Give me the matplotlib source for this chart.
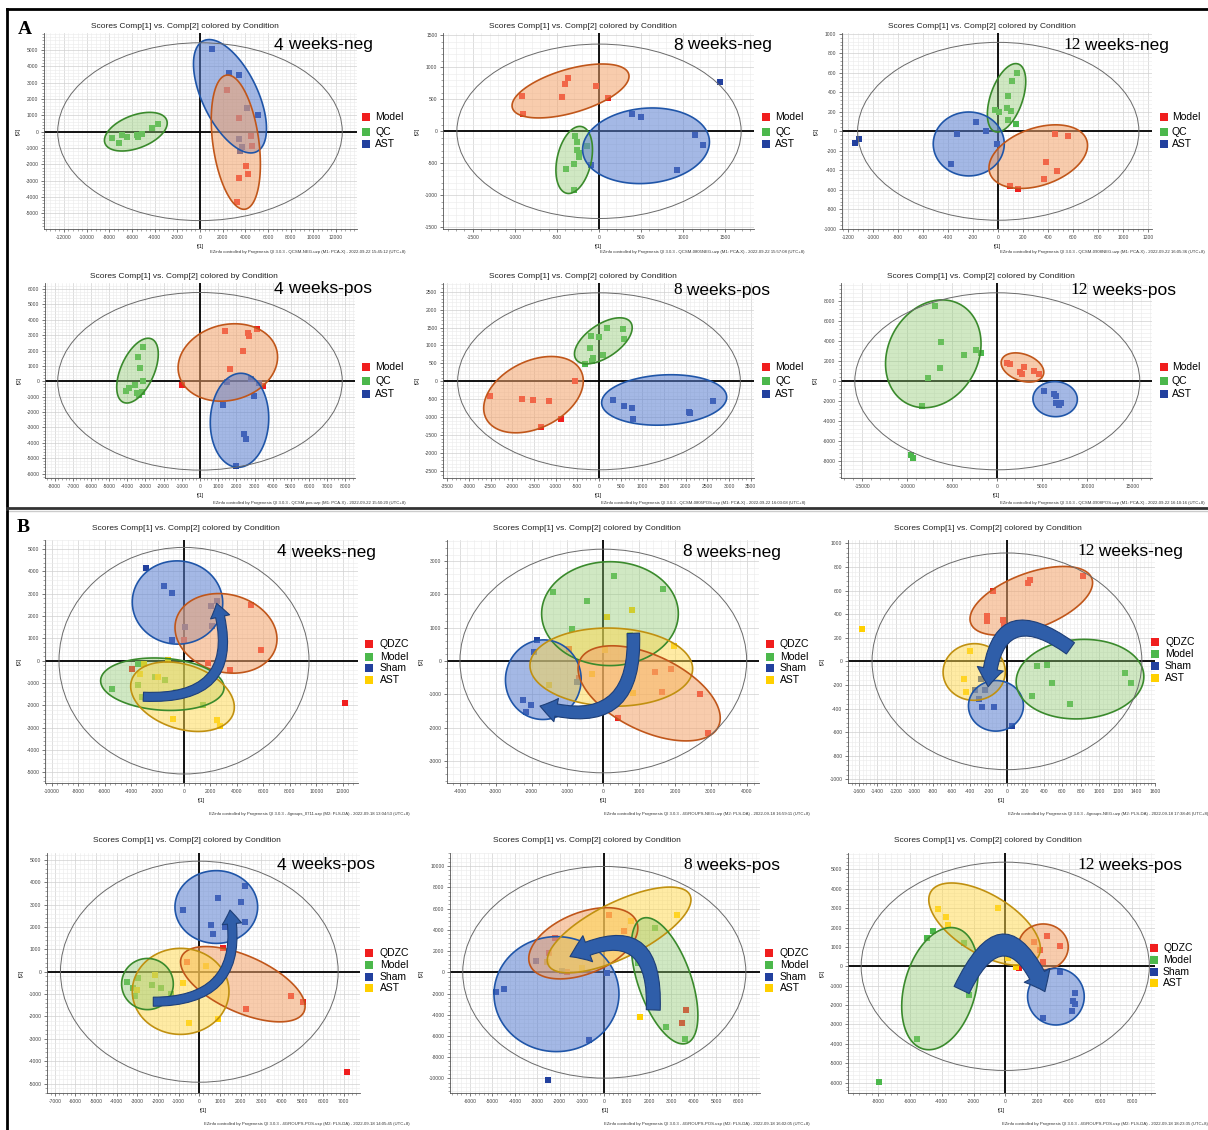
import numpy as np
import matplotlib
matplotlib.use("Agg")
import matplotlib.pyplot as plt
from matplotlib.patches import Ellipse, Polygon, Rectangle, FancyArrowPatch
from matplotlib.ticker import AutoMinorLocator
from matplotlib.lines import Line2D

plt.rcParams['font.family'] = ['Liberation Sans', 'DejaVu Sans']
plt.rcParams['axes.unicode_minus'] = False

W, H = 1208, 1130

# ---------------- data ----------------
# A: PCA score plots (Model / QC / AST)
a1_model = [(2410, 2550), (3470, 816), (4470, -290), (4560, -880), (4030, -2080), (4200, -2590), (3470, -2820), (3230, -4330)]
a1_qc = [(-7730, -410), (-7140, -670), (-6850, -220), (-6470, -310), (-5590, -200), (-5500, -310), (-5150, -160), (-4200, 200), (-3730, 450)]
a1_ast = [(1100, 5050), (2590, 3570), (3440, 3450), (4170, 1470), (5090, 1020), (3470, -470), (3670, -920), (3530, -1180)]

a2_model = [(-911, 546), (-900, 270), (-440, 536), (-404, 738), (-373, 827), (-36, 702), (103, 520)]
a2_qc = [(-281, -73), (-262, -166), (-147, -229), (-266, -296), (-238, -333), (-234, -400), (-301, -515), (-388, -593), (-301, -915)]
a2_ast = [(388, 276), (495, 229), (1145, -57), (1240, -208), (931, -608), (-95, -525), (1439, 764)]

a3_model = [(453, -24), (560, -48), (381, -315), (472, -407), (365, -486), (93, -561), (155, -588)]
a3_qc = [(149, 595), (107, 517), (80, 363), (-27, 219), (5, 195), (69, 236), (99, 212), (77, 113), (144, 72)]
a3_ast = [(-176, 96), (-96, 7), (-333, -27), (-8, -127), (-376, -332), (-1147, -123), (-1112, -82)]

a4_model = [(1395, 3270), (3156, 3400), (2660, 3120), (2697, 2967), (2386, 1971), (1633, 823), (-1009, -217), (3487, -325)]
a4_qc = [(-3120, 2209), (-3395, 1581), (-3285, 866), (-3156, 0), (-3560, -260), (-3909, -455), (-4074, -628), (-3450, -780), (-3211, -671), (-3376, -888)]
a4_ast = [(1468, -65), (2789, 152), (3266, -130), (2954, -953), (1248, -1538), (2440, -3444), (2532, -3747), (1963, -5502)]

a5_model = [(-561, 19), (-2505, -418), (-1767, -483), (-1529, -520), (-1152, -548), (-868, -1059), (-1345, -1273)]
a5_qc = [(192, 1487), (561, 1468), (0, 1245), (-192, 1264), (584, 1180), (-200, 929), (100, 743), (-131, 660), (-169, 576), (-315, 474)]
a5_ast = [(315, -520), (584, -688), (753, -753), (791, -1041), (2067, -846), (2098, -892), (2620, -539)]

a6_model = [(1037, 1833), (1370, 1700), (2926, 1433), (2519, 967), (2704, 700), (4111, 1033), (4667, 733)]
a6_qc = [(-6963, 7500), (-6222, 3900), (-3704, 2633), (-2333, 3133), (-1852, 2800), (-6370, 1300), (-7667, 300), (-8407, -2467), (-9630, -7367), (-9333, -7633)]
a6_ast = [(5148, -933), (6259, -1233), (6481, -1467), (6481, -2133), (6889, -2333), (7074, -2133)]

# B: PLS-DA score plots (QDZC / Model / Sham / AST)
b1_qdzc = [(5040, 2497), (5821, 478), (1840, -120), (3478, -419), (-3956, -374), (0, 927), (12172, -1914)]
b1_model = [(-3452, -150), (-3503, -1076), (-5468, -1271), (-3150, -1645), (-1436, -867), (-2192, -718), (-630, -1390), (1462, -1988)]
b1_sham = [(-2898, 4141), (-1487, 3364), (-932, 3020), (-932, 927), (2041, 2467), (2520, 2676), (101, 1525), (2117, 1570)]
b1_ast = [(-1184, 30), (-2999, -164), (-3326, -598), (-1940, -718), (-857, -2616), (2520, -2661), (2722, -2930)]

b2_qdzc = [(-949, 351), (-679, -501), (1442, -321), (1879, -230), (1628, -922), (2697, -1002), (400, -1703), (2930, -2154)]
b2_model = [(307, 2565), (1674, 2164), (-1395, 2084), (-465, 1804), (-865, 962), (744, 782)]
b2_sham = [(-1841, 631), (-1934, 260), (-744, -641), (-2251, -1172), (-2027, -1323), (-2158, -1533)]
b2_ast = [(809, 1533), (93, 1313), (46, 331), (1981, 451), (-307, -401), (-1516, -721), (837, -972)]

b3_qdzc = [(821, 723), (249, 689), (228, 667), (-149, 599), (-220, 384), (-220, 342), (-43, 350), (-32, 299)]
b3_model = [(324, -40), (430, -34), (484, -181), (270, -291), (686, -364), (1280, -102), (1337, -186)]
b3_sham = [(-281, -153), (-345, -243), (-238, -243), (-299, -322), (-274, -390), (-139, -390), (57, -548)]
b3_ast = [(-1572, 274), (-398, 90), (-462, -153), (-441, -263)]

b4_qdzc = [(1131, 1073), (-598, 432), (808, -313), (4441, -1073), (5006, -1341), (2261, -1684), (7138, -4500)]
b4_model = [(-3488, -462), (-2955, -298), (-3230, -715), (-3101, -1088), (-2309, -611), (-1857, -745), (-1389, -998)]
b4_sham = [(2212, 3829), (904, 3278), (2003, 3129), (-808, 2757), (2229, 2205), (549, 2086), (646, 1684), (1244, 2011)]
b4_ast = [(323, 268), (-2148, -149), (-775, -522), (-3036, -820), (-485, -2310), (921, -2131)]

b5_qdzc = [(224, 5400), (894, 3925), (-2190, 3203), (3636, -3548), (3457, -4741), (-2474, 1790), (-1684, 63)]
b5_model = [(2265, 4145), (1520, 848), (2757, -5181), (3606, -6311)]
b5_sham = [(-3055, 1099), (-1877, 126), (134, -31), (-4857, -1884), (-4470, -1570), (-700, -6374), (-2503, -10142)]
b5_ast = [(1177, 4836), (-2548, 1005), (3233, 5400), (1594, -4239), (-1013, 440)]

b6_qdzc = [(2604, 1564), (3465, 1066), (1827, 1238), (2184, 860), (2394, 241), (861, -69)]
b6_model = [(-4578, 1822), (-4914, 1444), (-2583, 1186), (-2268, -1478), (-5586, -3747), (-7959, -5982)]
b6_sham = [(3465, -275), (4389, -1358), (4242, -1771), (4389, -1942), (4179, -2286), (2352, -2682)]
b6_ast = [(-4263, 2939), (-3738, 2561), (-3633, 2132), (-441, 2991), (-861, 1272), (651, 842), (147, 413), (651, -52)]

# hand-drawn group ellipses: long-axis end points (data units) and short/long ratio
a1_ell = [('blue', (294, 5569), (4998, -1224), 0.45), ('orange', (2352, 3468), (3969, -4753), 0.34), ('green', (-8379, -714), (-2940, 714), 0.5)]
a2_ell = [('orange', (-1030, 364), (353, 894), 0.36), ('green', (-206, 73), (-384, -967), 0.5), ('blue', (-194, -317), (1312, -135), 0.59)]
a3_ell = [('green', (160, 690), (-27, -3), 0.45), ('blue', (-520, -130), (48, -130), 0.9), ('orange', (-67, -431), (707, -89), 0.56)]
a4_ell = [('green', (-2660, 2750), (-4220, -1365), 0.48), ('orange', (-1156, 411), (4220, 2036), 0.75), ('blue', (2294, 520), (2055, -5588), 0.62)]
a5_ell = [('green', (-530, 613), (730, 1645), 0.5), ('orange', (-2605, -1032), (-415, 288), 0.63), ('blue', (61, -613), (2943, -427), 0.4)]
a6_ell = [('green', (-4148, 7700), (-10075, -2200), 0.8), ('orange', (481, 2133), (5111, 633), 0.6), ('blue', (3963, -1700), (8889, -1867), 0.79)]
b1_ell = [('blue', (-3906, 2721), (2923, 2497), 0.92), ('orange', (-605, 1824), (6955, 628), 0.75), ('green', (-6300, -867), (3024, -1241), 0.42), ('yellow', (-3956, -867), (3730, -2362), 0.6)]
b2_ell = [('green', (-1721, 1423), (2093, 1423), 0.76), ('blue', (-1581, 631), (-1767, -1754), 0.95), ('yellow', (-2046, -120), (2492, -250), 0.48), ('orange', (-651, 30), (3209, -1974), 0.49)]
b3_ell = [('orange', (-391, 322), (917, 703), 0.43), ('yellow', (-690, -102), (-18, -79), 0.91), ('blue', (-416, -384), (178, -370), 0.92), ('green', (100, -186), (1479, -116), 0.62)]
b4_ell = [('blue', (-1179, 2891), (2826, 2891), 0.88), ('orange', (-856, 671), (5071, -1788), 0.42), ('yellow', (-3246, -879), (1437, -879), 0.89), ('green', (-3763, -551), (-1260, -551), 0.99)]
b5_ell = [('blue', (-4932, -2135), (656, -1978), 0.92), ('orange', (-3323, 691), (1445, 4773), 0.53), ('yellow', (-2503, 691), (3829, 7285), 0.35), ('green', (1714, 5087), (3680, -6688), 0.4)]
b6_ell = [('yellow', (-4683, 3851), (2079, 499), 0.47), ('green', (-3066, 1960), (-5166, -4263), 0.57), ('orange', (819, 997), (3969, 997), 0.92), ('blue', (1407, -1564), (4977, -1564), 1.0)]

# Hotelling T2 ellipse half axes
a_t2 = [(12550, 5450), (1690, 1360), (1125, 912), (7830, 5770), (3258, 2467), (15830, 8850)]
b_t2 = [(9450, 5080), (4000, 3360), (1458, 918), (6725, 4940), (6330, 9970), (9080, 5370)]

# curved arrows: start, end, bend, (tail, head width, head length) in points
b_arrows = [((-3074, -1615), (2470, 2571), 0.7, (6.5, 14, 10)),
            ((837, 832), (-1767, -1353), -0.7, (9, 17, 12)),
            ((686, 110), (-203, -215), 0.9, (10, 19, 13)),
            ((-2229, -1341), (1486, 2757), 0.6, (6.5, 14, 10)),
            ((2190, -3548), (-1535, 1476), 0.85, (10, 20, 14)),
            ((-2751, -1220), (2499, -1306), -1.1, (12, 21, 13))]

labels_a = ['Model', 'QC', 'AST']
labels_b = ['QDZC', 'Model', 'Sham', 'AST']
weeks = [('4', ' weeks-neg', False), ('8', ' weeks-neg', False), ('12', ' weeks-neg', True),
         ('4', ' weeks-pos', False), ('8', ' weeks-pos', True), ('12', ' weeks-pos', True)]
footer_a = ['QCSM-NEG.uzp (M1: PCA-X) - 2022-09-22 15:45:12 (UTC+8)',
            'QCSM-0805NEG.uzp (M1: PCA-X) - 2022-09-22 15:57:08 (UTC+8)',
            'QCSM-0908NEG.uzp (M1: PCA-X) - 2022-09-22 16:05:36 (UTC+8)',
            'QCSM-pos.uzp (M1: PCA-X) - 2022-09-22 15:50:20 (UTC+8)',
            'QCSM-0805POS.uzp (M1: PCA-X) - 2022-09-22 16:03:08 (UTC+8)',
            'QCSM-0908POS.uzp (M1: PCA-X) - 2022-09-22 16:10:16 (UTC+8)']
footer_b = ['4groups_0711.uzp (M2: PLS-DA) - 2022-09-18 13:04:53 (UTC+8)',
            '4GROUPS-NEG.uzp (M2: PLS-DA) - 2022-09-18 16:59:11 (UTC+8)',
            '4groups-NEG.uzp (M2: PLS-DA) - 2022-09-18 17:38:46 (UTC+8)',
            '4GROUPS-POS.uzp (M2: PLS-DA) - 2022-09-18 14:05:45 (UTC+8)',
            '4GROUPS-POS.uzp (M2: PLS-DA) - 2022-09-18 16:02:05 (UTC+8)',
            '4GROUPS-POS.uzp (M2: PLS-DA) - 2022-09-18 18:23:35 (UTC+8)']

# ---------------- styles ----------------
PT = {'red': '#f01e1e', 'green': '#4cb84c', 'blue': '#22409e', 'yellow': '#ffd000'}
FILL = {'orange': ('#f3a36b', '#c0561a', 0.55), 'green': ('#8fca72', '#3a8a2c', 0.42),
        'blue': ('#5a7fd0', '#1f55a8', 0.55), 'yellow': ('#ffd84a', '#c09010', 0.5)}

fig = plt.figure(figsize=(W / 100, H / 100), dpi=100)


def fx(x):
    return x / W


def fy(y):
    return 1 - y / H


def make_axes(rect, xlim, ylim, xt, yt):
    l, t, r, b = rect
    ax = fig.add_axes([fx(l), fy(b), (r - l) / W, (b - t) / H])
    ax.set_xlim(xlim)
    ax.set_ylim(ylim)
    ax.set_xticks(list(xt))
    ax.set_yticks(list(yt))
    ax.xaxis.set_minor_locator(AutoMinorLocator(5))
    ax.yaxis.set_minor_locator(AutoMinorLocator(5))
    ax.grid(which='major', color='#d0d0d0', lw=0.5, zorder=0)
    ax.grid(which='minor', color='#ebebeb', lw=0.4, zorder=0)
    ax.set_axisbelow(True)
    for s in ['top', 'right']:
        ax.spines[s].set_visible(False)
    for s in ['left', 'bottom']:
        ax.spines[s].set_color('#555555')
        ax.spines[s].set_linewidth(0.6)
    ax.tick_params(which='major', labelsize=3.6, length=2.5, width=0.5, pad=1.5,
                   colors='#444444')
    ax.tick_params(which='minor', length=1.3, width=0.4, colors='#666666')
    ax.axhline(0, color='black', lw=1.3, zorder=1.5)
    ax.axvline(0, color='black', lw=1.3, zorder=1.5)
    ax.set_xlabel('t[1]', fontsize=3.6, labelpad=3)
    ax.set_ylabel('t[2]', fontsize=3.6, labelpad=3)
    return ax


def blob(ax, p1, p2, ratio, kind):
    fc, ec, al = FILL[kind]
    T = ax.transData
    a, b = T.transform([p1, p2])
    c = (a + b) / 2
    d = (b - a) / 2
    n = np.array([-d[1], d[0]]) * ratio
    t = np.linspace(0, 2 * np.pi, 160)
    pts = c + np.outer(np.cos(t), d) + np.outer(np.sin(t), n)
    xy = T.inverted().transform(pts)
    ax.add_patch(Polygon(xy, closed=True, facecolor=fc, edgecolor='none', alpha=al, zorder=3))
    ax.add_patch(Polygon(xy, closed=True, fill=False, edgecolor=ec, lw=1.2, zorder=4))


def draw_panel(rect, xlim, ylim, xt, yt, groups, ells, t2):
    ax = make_axes(rect, xlim, ylim, xt, yt)
    for pts, col in groups:
        xs = [p[0] for p in pts]
        ys = [p[1] for p in pts]
        ax.scatter(xs, ys, marker='s', s=13, color=PT[col], lw=0, zorder=2)
    for kind, p1, p2, ratio in ells:
        blob(ax, p1, p2, ratio, kind)
    ax.add_patch(Ellipse((0, 0), 2 * t2[0], 2 * t2[1], fill=False, ec='#6a6a6a', lw=0.7, zorder=4.5))
    return ax


def legend(xs, xt, ys, labels, colors):
    for y, lab, c in zip(ys, labels, colors):
        fig.add_artist(Rectangle((fx(xs), fy(y + 4)), 8 / W, 8 / H, transform=fig.transFigure,
                                 color=PT[c], lw=0))
        fig.text(fx(xt), fy(y), lab, fontsize=7.5, va='center', ha='left')


def week_label(x, y, spec):
    num, rest, serif = spec
    fam = ['Liberation Serif'] if serif else ['Liberation Sans']
    t = fig.text(fx(x), fy(y), num, fontsize=12.5, family=fam, va='center', ha='left')
    fig.add_artist(matplotlib.text.Annotation(rest, xy=(1, 0), xycoords=t, va='bottom', ha='left',
                                              fontsize=12.5, family=['Liberation Sans']))


def title(cx, y):
    fig.text(fx(cx), fy(y), 'Scores Comp[1] vs. Comp[2] colored by Condition', fontsize=6,
             ha='center', va='center', color='#222222')


def footer(rx, y, s):
    fig.text(fx(rx), fy(y), 'EZinfo controlled by Progenesis QI 3.0.3 - ' + s, fontsize=3.1,
             ha='right', va='center', color='#333333')


# ---------------- section A ----------------
a_rects = [(44, 33, 357, 229), (443, 33, 754, 229), (842, 33, 1152, 229),
           (45, 283, 355, 478), (443, 283, 754, 478), (841, 283, 1152, 478)]
a_xlim = [(-13760, 13850), (-1855, 1843), (-1250, 1230), (-8531, 8531), (-3596, 3573), (-17365, 17187)]
a_ylim = [(-5965, 6050), (-1524, 1533), (-1002, 1008), (-6283, 6387), (-2696, 2741), (-9670, 9830)]
a_xt = [range(-12000, 12001, 2000), range(-1500, 1501, 500), range(-1200, 1201, 200),
        range(-8000, 8001, 1000), range(-3500, 3501, 500), range(-15000, 15001, 5000)]
a_yt = [range(-5000, 5001, 1000), range(-1500, 1501, 500), range(-1000, 1001, 200),
        range(-6000, 6001, 1000), range(-2500, 2501, 500), range(-8000, 8001, 2000)]
a_groups = [[(a1_model, 'red'), (a1_qc, 'green'), (a1_ast, 'blue')],
            [(a2_model, 'red'), (a2_qc, 'green'), (a2_ast, 'blue')],
            [(a3_model, 'red'), (a3_qc, 'green'), (a3_ast, 'blue')],
            [(a4_model, 'red'), (a4_qc, 'green'), (a4_ast, 'blue')],
            [(a5_model, 'red'), (a5_qc, 'green'), (a5_ast, 'blue')],
            [(a6_model, 'red'), (a6_qc, 'green'), (a6_ast, 'blue')]]
a_ells = [a1_ell, a2_ell, a3_ell, a4_ell, a5_ell, a6_ell]

for i in range(6):
    draw_panel(a_rects[i], a_xlim[i], a_ylim[i], a_xt[i], a_yt[i], a_groups[i], a_ells[i], a_t2[i])

a_title = [(185, 26), (583, 26), (982, 26), (184, 276), (583, 276), (981, 276)]
a_week = [(274, 45), (673, 45), (1063, 45), (274, 289), (673, 290), (1070, 290)]
a_leg = [(362, 375, [117, 131.7, 144.3]), (762, 775, [117, 131.7, 144.3]), (1160, 1172, [117, 131.7, 144.3]),
         (362, 375, [366.7, 381.3, 394.3]), (762, 775, [366.7, 381.3, 394.3]), (1160, 1172, [366.7, 381.3, 394.3])]
a_foot = [(406, 252), (805, 252), (1205, 252), (406, 503), (805, 503), (1205, 503)]
for i in range(6):
    title(*a_title[i])
    week_label(a_week[i][0], a_week[i][1], weeks[i])
    legend(a_leg[i][0], a_leg[i][1], a_leg[i][2], labels_a, ['red', 'green', 'blue'])
    footer(a_foot[i][0], a_foot[i][1], footer_a[i])

# ---------------- section B ----------------
b_rects = [(45, 540, 358, 783), (447, 540, 759, 783), (848, 540, 1155, 783),
           (47, 853, 360, 1093), (450, 853, 760, 1093), (848, 853, 1155, 1093)]
b_xlim = [(-10508, 13154), (-4361, 4344), (-1718, 1558), (-7378, 7784), (-6900, 6963), (-9910, 9437)]
b_ylim = [(-5484, 5412), (-3666, 3636), (-1031, 1028), (-5422, 5306), (-11372, 11238), (-6532, 5842)]
b_xt = [range(-10000, 12001, 2000), range(-4000, 4001, 1000), range(-1600, 1601, 200),
        range(-7000, 7001, 1000), range(-6000, 6001, 1000), range(-8000, 8001, 2000)]
b_yt = [range(-5000, 5001, 1000), range(-3000, 3001, 1000), range(-1000, 1001, 200),
        range(-5000, 5001, 1000), range(-10000, 10001, 2000), range(-6000, 5001, 1000)]
b_groups = [[(b1_qdzc, 'red'), (b1_model, 'green'), (b1_sham, 'blue'), (b1_ast, 'yellow')],
            [(b2_qdzc, 'red'), (b2_model, 'green'), (b2_sham, 'blue'), (b2_ast, 'yellow')],
            [(b3_qdzc, 'red'), (b3_model, 'green'), (b3_sham, 'blue'), (b3_ast, 'yellow')],
            [(b4_qdzc, 'red'), (b4_model, 'green'), (b4_sham, 'blue'), (b4_ast, 'yellow')],
            [(b5_qdzc, 'red'), (b5_model, 'green'), (b5_sham, 'blue'), (b5_ast, 'yellow')],
            [(b6_qdzc, 'red'), (b6_model, 'green'), (b6_sham, 'blue'), (b6_ast, 'yellow')]]
b_ells = [b1_ell, b2_ell, b3_ell, b4_ell, b5_ell, b6_ell]

for i in range(6):
    ax = draw_panel(b_rects[i], b_xlim[i], b_ylim[i], b_xt[i], b_yt[i], b_groups[i], b_ells[i], b_t2[i])
    p0, p1, rad, (tw, hw, hl) = b_arrows[i]
    ax.add_patch(FancyArrowPatch(p0, p1, connectionstyle=f'arc3,rad={rad}',
                                 arrowstyle=f'simple,head_width={hw},head_length={hl},tail_width={tw}',
                                 mutation_scale=1, shrinkA=0, shrinkB=0,
                                 facecolor='#2f5ea9', edgecolor='#1e3f78', lw=0.8, zorder=6))

b_title = [(186, 529), (587, 529), (988, 529), (187, 841), (587, 841), (988, 841)]
b_week = [(277, 552), (682, 552), (1077, 551), (277, 865), (683, 865), (1077, 865)]
b_leg = [(365, 380, [644.3, 656.7, 668.3, 680]), (766, 780, [644.3, 656.7, 668.3, 680]),
         (1151, 1165, [642.3, 654.3, 666, 678]), (365, 380, [953.3, 965, 976.7, 988.3]),
         (765, 780, [953.3, 965, 976.7, 988.3]), (1150, 1163, [948.3, 960, 971.7, 983.3])]
b_foot = [(410, 814), (810, 814), (1208, 814), (410, 1124), (810, 1124), (1208, 1124)]
for i in range(6):
    title(*b_title[i])
    week_label(b_week[i][0], b_week[i][1], weeks[i])
    legend(b_leg[i][0], b_leg[i][1], b_leg[i][2], labels_b, ['red', 'green', 'blue', 'yellow'])
    footer(b_foot[i][0], b_foot[i][1], footer_b[i])

# section letters and frames
fig.text(fx(18), fy(30), 'A', fontsize=14, fontweight='bold', family=['Liberation Serif'], va='center')
fig.text(fx(17), fy(527), 'B', fontsize=14, fontweight='bold', family=['Liberation Serif'], va='center')
for (x1, y1, x2, y2, lw, c) in [(7, 9, 1208, 9, 2, 'black'), (7, 9, 7, 508, 2, 'black'),
                                (7, 508, 1208, 508, 2, '#333333'), (7, 511, 1208, 511, 1, '#cccccc'),
                                (7, 511, 7, 1130, 2, 'black')]:
    fig.add_artist(Line2D([fx(x1), fx(x2)], [fy(y1), fy(y2)], transform=fig.transFigure, color=c, lw=lw))

fig.savefig('out.png', dpi=100)
